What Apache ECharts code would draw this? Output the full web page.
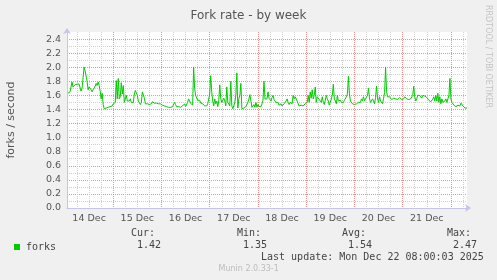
<!DOCTYPE html>
<html><head><meta charset="utf-8">
<script src="https://cdn.jsdelivr.net/npm/echarts@6/dist/echarts.min.js"></script>
<style>html,body{margin:0;padding:0;background:#f0f0f0}#c{width:497px;height:280px}</style>
</head><body><div id="c"></div>
<script>
const titleText = 'Fork rate - by week';
const yName = 'forks / second';
const seriesName = 'forks';
const startTime = [2025, 11, 14, 1, 30];   // local time of first sample
const stepMinutes = 30;
const axisStart = [2025, 11, 14, 1, 0];
const axisEnd = [2025, 11, 22, 8, 0];
const monthNames = ['Jan','Feb','Mar','Apr','May','Jun','Jul','Aug','Sep','Oct','Nov','Dec'];
const forks = [
1.63,1.64,1.65,1.65,1.79,1.72,1.74,1.75,1.76,1.76,
1.77,1.76,1.77,1.66,1.70,1.72,2.00,1.95,1.97,1.80,
1.68,1.72,1.70,1.68,1.65,1.68,1.70,1.73,1.77,1.74,
1.79,1.74,1.66,1.55,1.63,1.47,1.41,1.41,1.42,1.42,
1.43,1.43,1.44,1.43,1.45,1.48,1.46,1.50,1.81,1.55,
1.84,1.55,1.58,1.78,1.62,1.74,1.50,1.52,1.60,1.52,
1.50,1.52,1.55,1.50,1.52,1.50,1.62,1.67,1.69,1.60,
1.52,1.50,1.47,1.50,1.65,1.64,1.56,1.48,1.49,1.48,
1.48,1.47,1.46,1.48,1.51,1.50,1.49,1.50,1.49,1.48,
1.48,1.49,1.48,1.47,1.46,1.46,1.45,1.45,1.44,1.44,
1.43,1.43,1.43,1.44,1.44,1.45,1.50,1.47,1.44,1.44,
1.44,1.43,1.43,1.44,1.45,1.46,1.48,1.44,1.45,1.50,
1.55,1.52,1.49,1.47,1.46,2.00,1.70,1.60,1.58,1.53,
1.51,1.53,1.49,1.47,1.48,1.46,1.45,1.45,1.45,1.48,
1.55,1.62,1.88,1.65,1.52,1.45,1.55,1.48,1.52,1.44,
1.52,1.75,1.55,1.50,1.52,1.56,1.52,1.45,1.72,1.50,
1.52,1.45,1.80,1.45,1.41,1.42,1.50,1.60,1.92,1.42,
1.55,1.60,1.77,1.41,1.42,1.42,1.43,1.44,1.44,1.50,
1.55,1.61,1.52,1.43,1.44,1.47,1.43,1.50,1.43,
1.47,1.44,1.46,1.44,1.48,1.53,1.80,1.55,1.53,1.55,
1.65,1.56,1.58,1.52,1.57,1.60,1.54,1.52,1.50,1.48,
1.50,1.46,1.47,1.48,1.45,1.46,1.48,1.47,1.52,1.55,
1.50,1.47,1.50,1.52,1.48,1.60,1.55,1.58,1.58,1.52,
1.48,1.45,1.47,1.46,1.48,1.45,1.46,1.48,1.47,1.50,
1.60,1.50,1.65,1.56,1.68,1.55,1.60,1.72,1.50,1.58,
1.56,1.54,1.55,1.50,1.58,1.50,1.47,1.48,1.60,1.55,
1.52,1.46,1.50,1.52,1.60,1.76,1.55,1.52,1.48,1.60,
1.52,1.50,1.53,1.50,1.48,1.50,1.53,1.55,1.58,1.62,
1.87,1.62,1.52,1.50,1.48,1.47,1.47,1.46,1.48,1.46,
1.50,1.52,1.50,1.55,1.52,1.58,1.52,1.55,1.55,1.60,
1.70,1.55,1.50,1.52,1.55,1.52,1.48,1.57,1.73,1.55,
1.50,1.58,1.52,1.50,1.48,1.56,1.64,2.00,1.65,1.58,
1.56,1.58,1.60,1.54,1.55,1.56,1.54,1.55,1.56,1.54,
1.55,1.57,1.56,1.54,1.55,1.55,1.58,1.56,1.55,
1.55,1.54,1.54,1.55,1.57,1.60,1.73,1.58,1.52,1.55,
1.60,1.58,1.60,1.58,1.56,1.60,1.58,1.59,1.60,1.57,
1.55,1.53,1.52,1.51,1.52,1.55,1.58,1.52,1.60,1.52,
1.63,1.50,1.58,1.48,1.55,1.50,1.51,1.52,1.55,1.50,
1.55,1.60,1.84,1.55,1.50,1.48,1.46,1.45,1.44,1.45,
1.46,1.44,1.45,1.49,1.47,1.45,1.45,1.42,1.43,1.42
];
const yMax = 2.5;
const yMajor = 0.2;
const yMinor = 0.1;
const minorHours = 6;
const statLabels = ['Cur:', 'Min:', 'Avg:', 'Max:'];
const statValues = ['1.42', '1.35', '1.54', '2.47'];
const lastUpdate = 'Last update: Mon Dec 22 08:00:03 2025';
const footer = 'Munin 2.0.33-1';
const watermark = 'RRDTOOL / TOBI OETIKER';

const mk = a => new Date(a[0], a[1], a[2], a[3], a[4]).getTime();
const t0 = mk(startTime), xMin = mk(axisStart), xMax = mk(axisEnd);
const stepMs = stepMinutes * 60000;
const data = forks.map((v, i) => [t0 + i * stepMs, v]);
const H = 3600000, DAY = 24 * H;

// half-hour slots spanning the axis, used only to place the vertical grid
const slots = [];
for (let t = xMin; t <= xMax; t += stepMs) slots.push(t);
const isMinor = i => { const d = new Date(slots[i]); return d.getMinutes() === 0 && d.getHours() % minorHours === 0 && d.getHours() !== 0; };
const isMajor = i => { const d = new Date(slots[i]); return d.getMinutes() === 0 && d.getHours() === 0; };

const GRID = { left: 67, top: 32, width: 400, height: 176 };
const minorCol = '#d0d0d0', majorCol = '#f09090', axisCol = '#c4c4ec';
const mono = 'DejaVu Sans Mono', sans = 'DejaVu Sans';
const statX = [[131, 137], [237, 243], [342, 348], [447, 453]];

const chart = echarts.init(document.getElementById('c'), null, { renderer: 'canvas' });
const graphic = [];
statLabels.forEach((s, i) => {
  graphic.push({ type: 'text', x: statX[i][0], y: 233, style: { text: s, font: '10px ' + mono, fill: '#444', textVerticalAlign: 'middle' } });
  graphic.push({ type: 'text', x: statX[i][1], y: 245.5, style: { text: statValues[i], font: '10px ' + mono, fill: '#444', textVerticalAlign: 'middle' } });
});
graphic.push({ type: 'text', x: 261, y: 257.5, style: { text: lastUpdate, font: '10px ' + mono, fill: '#444', textVerticalAlign: 'middle' } });
graphic.push({ type: 'text', x: 218.5, y: 269, style: { text: footer, font: '8px ' + sans, fill: '#bcbcbc', textVerticalAlign: 'middle' } });
graphic.push({ type: 'text', x: 488, y: 5, rotation: -Math.PI / 2, style: { text: watermark, font: '8px ' + sans, fill: '#c4c4c4', textVerticalAlign: 'middle', textAlign: 'left' } });

const gridAxis = (fn, col) => ({
  type: 'category', position: 'bottom', data: slots.map(String), boundaryGap: false,
  axisLine: { show: false }, axisTick: { show: false }, axisLabel: { show: false },
  splitLine: { show: true, interval: fn, lineStyle: { color: col, type: [1, 1], width: 1 } }
});

chart.setOption({
  animation: false,
  backgroundColor: '#f0f0f0',
  title: { text: titleText, left: 'center', top: 5, textStyle: { fontFamily: sans, fontSize: 12, fontWeight: 'normal', color: '#555' } },
  legend: { left: 14, top: 242, padding: 0, itemWidth: 6, itemHeight: 6, itemGap: 5, icon: 'rect',
    data: [{ name: seriesName, itemStyle: { color: '#00cc00' } }],
    textStyle: { fontFamily: mono, fontSize: 10, color: '#444', padding: [0, 0, 0, 1] } },
  grid: Object.assign({ show: true, backgroundColor: '#ffffff', borderWidth: 0, outerBoundsMode: 'none', containLabel: false }, GRID),
  xAxis: [
    gridAxis(isMinor, minorCol),
    gridAxis(isMajor, majorCol),
    { type: 'time', position: 'bottom', min: xMin, max: xMax,
      axisLine: { show: true, onZero: false, lineStyle: { color: axisCol }, symbol: ['none', 'arrow'], symbolSize: [6, 6], symbolOffset: [0, 4] },
      axisTick: { show: false }, axisLabel: { show: false }, splitLine: { show: false } },
    { type: 'time', position: 'bottom', min: xMin - 12 * H, max: xMax - 12 * H, minInterval: DAY, maxInterval: DAY,
      axisLine: { show: false }, axisTick: { show: false }, splitLine: { show: false },
      axisLabel: { show: true, margin: 6, color: '#555', fontFamily: sans, fontSize: 9.5,
        formatter: v => { const d = new Date(v); if (d.getHours() !== 0 || d.getMinutes() !== 0) return ''; return d.getDate() + ' ' + monthNames[d.getMonth()]; } } }
  ],
  yAxis: [
    { type: 'value', position: 'left', min: 0, max: yMax, interval: yMinor,
      axisLine: { show: false }, axisTick: { show: false }, axisLabel: { show: false },
      splitLine: { show: true, showMaxLine: false, lineStyle: { color: minorCol, type: [1, 1], width: 1 } } },
    { type: 'value', position: 'left', min: 0, max: yMax, interval: yMajor,
      name: yName, nameLocation: 'middle', nameGap: 50, nameRotate: 90,
      nameTextStyle: { fontFamily: sans, fontSize: 11, color: '#555' },
      axisLine: { show: true, onZero: false, lineStyle: { color: axisCol }, symbol: ['none', 'arrow'], symbolSize: [6, 6], symbolOffset: [0, 4] },
      axisTick: { show: false },
      axisLabel: { margin: 6, color: '#555', fontFamily: sans, fontSize: 9.5,
        formatter: v => v > 2.45 ? '' : v.toFixed(1) },
      splitLine: { show: true, showMaxLine: false, lineStyle: { color: majorCol, type: [1, 1], width: 1 } } }
  ],
  series: [
    { name: seriesName, type: 'line', xAxisIndex: 2, yAxisIndex: 1, data: data,
      showSymbol: false, symbol: 'none', z: 5,
      lineStyle: { color: '#00cc00', width: 1 }, itemStyle: { color: '#00cc00' } }
  ],
  graphic: graphic
});
</script></body></html>
